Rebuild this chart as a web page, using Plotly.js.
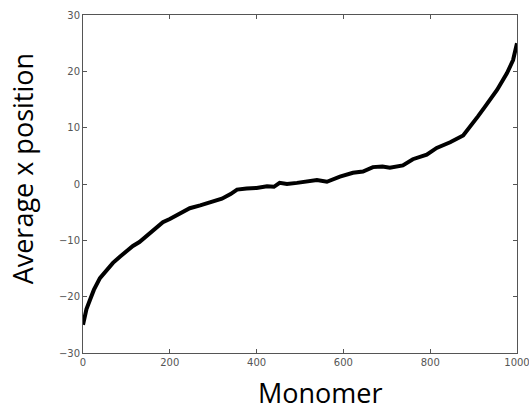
<!DOCTYPE html>
<html>
<head>
<meta charset="utf-8">
<script src="https://cdn.plot.ly/plotly-3.0.1.min.js"></script>
<style>html,body{margin:0;padding:0;background:#fff;}#chart{width:529px;height:412px;}</style>
</head>
<body>
<div id="chart"></div>
<script>
const monomer = [0,3,8,16,25,39,55,69,85,101,115,130,147,165,184,200,220,246,270,300,320,340,355,377,400,424,440,453,470,493,520,539,562,592,622,645,668,690,707,737,760,792,815,846,876,892,910,926,954,977,991,1000];
const avgX = [-25,-23.8,-22.2,-20.6,-18.8,-16.7,-15.2,-14.0,-12.9,-11.8,-11.0,-10.3,-9.2,-7.9,-6.8,-6.2,-5.3,-4.3,-3.8,-3.1,-2.6,-1.8,-1.0,-0.8,-0.7,-0.4,-0.5,0.2,0.0,0.2,0.5,0.7,0.4,1.3,2.0,2.2,3.0,3.1,2.9,3.3,4.4,5.2,6.4,7.4,8.6,10.1,12.0,13.7,16.7,19.7,22.0,25.0];
const xTicks = [0,200,400,600,800,1000];
const yTicks = [-30,-20,-10,0,10,20,30];
const yTickText = ['\u221230','\u221220','\u221210','0','10','20','30'];

const axisCommon = {
  showline: true, linecolor: '#555', linewidth: 1, mirror: 'ticks',
  ticks: 'inside', ticklen: 4, tickcolor: '#555', tickwidth: 1,
  showgrid: false, zeroline: false, ticklabeloverflow: 'allow',
  tickfont: {family: 'DejaVu Sans', size: 10, color: '#555'}
};

Plotly.newPlot('chart', [{
  x: monomer, y: avgX, type: 'scatter', mode: 'lines',
  line: {color: '#000', width: 4}
}], {
  width: 529, height: 412,
  margin: {l: 83, r: 12, t: 15, b: 59},
  paper_bgcolor: '#fff', plot_bgcolor: '#fff',
  showlegend: false,
  xaxis: Object.assign({}, axisCommon, {range: [0, 1000], tickvals: xTicks, ticktext: xTicks.map(String)}),
  yaxis: Object.assign({}, axisCommon, {range: [-30, 30], tickvals: yTicks, ticktext: yTickText}),
  annotations: [
    {text: 'Monomer', xref: 'paper', yref: 'paper', x: 0.548, y: -0.116, xanchor: 'center', yanchor: 'middle',
     showarrow: false, borderpad: 0, font: {family: 'Open Sans', size: 27, color: '#000'}},
    {text: 'Average x position', xref: 'paper', yref: 'paper', x: -0.14, y: 0.544, xanchor: 'center', yanchor: 'middle',
     textangle: -90, showarrow: false, borderpad: 0, font: {family: 'Open Sans', size: 27, color: '#000'}}
  ]
}, {staticPlot: true});
</script>
</body>
</html>
